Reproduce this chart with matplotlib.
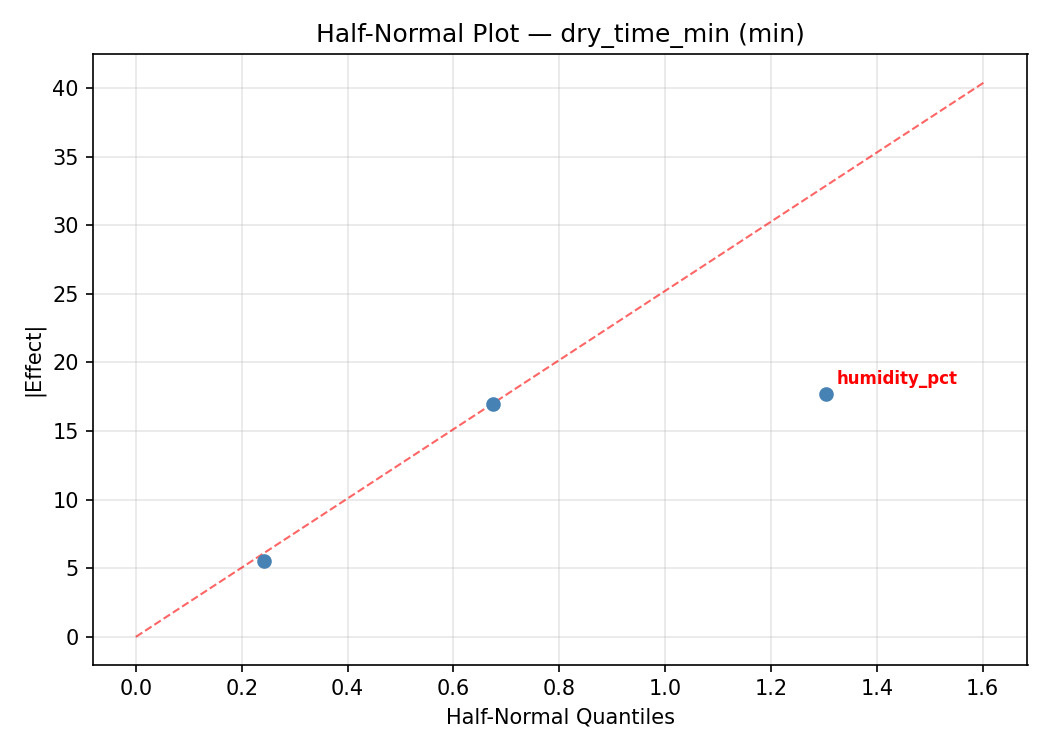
import matplotlib
matplotlib.use("Agg")
from matplotlib import pyplot as plt

quantiles = [0.2429, 0.6745, 1.3044]
effects = [5.5, 17.0, 17.7]
names = ["A", "B", "humidity_pct"]
significant = ["humidity_pct"]

ref_x = [0.0, 1.6044]
ref_y = [0.0, 40.45]

fig, ax = plt.subplots(figsize=(7, 5), dpi=150)
ax.scatter(quantiles, effects, color="steelblue", zorder=3)
ax.plot(ref_x, ref_y, "r--", alpha=0.6, linewidth=1)
for q, e, n in zip(quantiles, effects, names):
    if n in significant:
        ax.annotate(n, (q, e), xytext=(5, 5), textcoords="offset points",
                    fontsize=8, color="red", fontweight="bold")
ax.set_xlabel("Half-Normal Quantiles")
ax.set_ylabel("|Effect|")
ax.set_title("Half-Normal Plot \u2014 dry_time_min (min)")
ax.grid(True, alpha=0.3)
fig.tight_layout()
fig.savefig("out.png", dpi=150)
